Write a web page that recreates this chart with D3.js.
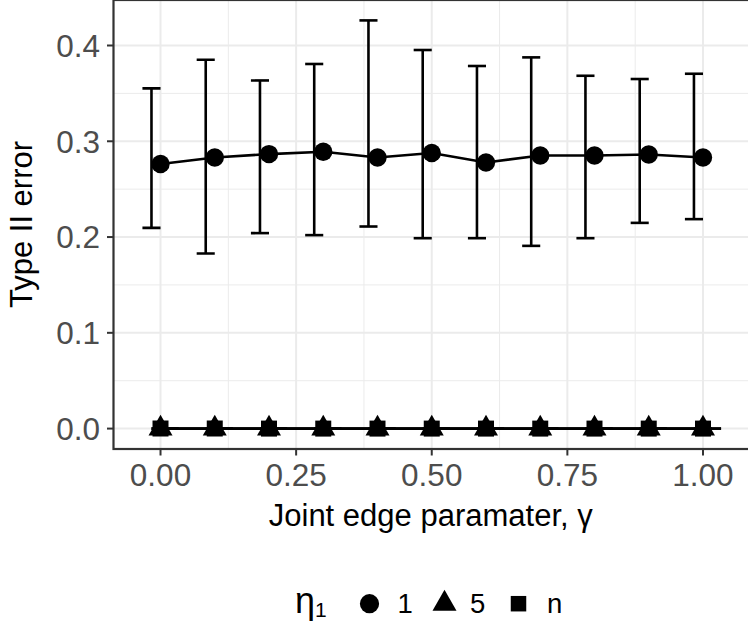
<!DOCTYPE html>
<html>
<head>
<meta charset="utf-8">
<script src="https://cdn.jsdelivr.net/npm/d3@7"></script>
<style>
  html, body { margin: 0; padding: 0; background: #fff; }
  svg { display: block; }
  text { font-family: "Liberation Sans", Arial, Helvetica, sans-serif; }
</style>
</head>
<body>
<div id="chart"></div>
<script>
// ---------------- data ----------------
const gamma = [0, 0.1, 0.2, 0.3, 0.4, 0.5, 0.6, 0.7, 0.8, 0.9, 1.0];
const seriesNames = ["1", "5", "n"];
const eta1Mean  = [0.2762, 0.2831, 0.2866, 0.2890, 0.2831, 0.2877, 0.2778, 0.2852, 0.2852, 0.2862, 0.2831];
const eta1Upper = [0.3552, 0.3852, 0.3635, 0.3807, 0.4262, 0.3953, 0.3786, 0.3876, 0.3684, 0.3650, 0.3705];
const eta1Lower = [0.2096, 0.1828, 0.2041, 0.2020, 0.2110, 0.1988, 0.1988, 0.1908, 0.1988, 0.2148, 0.2187];
const eta5Mean  = [0, 0, 0, 0, 0, 0, 0, 0, 0, 0, 0];
const eta5Upper = [0, 0, 0, 0, 0, 0, 0, 0, 0, 0, 0];
const eta5Lower = [0, 0, 0, 0, 0, 0, 0, 0, 0, 0, 0];
const etanMean  = [0, 0, 0, 0, 0, 0, 0, 0, 0, 0, 0];
const etanUpper = [0, 0, 0, 0, 0, 0, 0, 0, 0, 0, 0];
const etanLower = [0, 0, 0, 0, 0, 0, 0, 0, 0, 0, 0];
const xTicks = [0, 0.25, 0.5, 0.75, 1.0];
const xTickLabels = ["0.00", "0.25", "0.50", "0.75", "1.00"];
const yTicks = [0, 0.1, 0.2, 0.3, 0.4];
const yTickLabels = ["0.0", "0.1", "0.2", "0.3", "0.4"];
const xTitle = "Joint edge paramater, \u03B3";
const yTitle = "Type II error";
const legendTitle = "\u03B7";
const legendSub = "1";

// errorbar dodge (data units) and cap half width
const dodgeW = 0.05 / 3;
const capHalf = 0.05 / 3;

const series = [
  { name: seriesNames[0], mean: eta1Mean, up: eta1Upper, lo: eta1Lower, shape: "circle", dodge: -dodgeW },
  { name: seriesNames[1], mean: eta5Mean, up: eta5Upper, lo: eta5Lower, shape: "triangle", dodge: 0 },
  { name: seriesNames[2], mean: etanMean, up: etanUpper, lo: etanLower, shape: "square", dodge: dodgeW }
];

// ---------------- layout ----------------
const W = 748, H = 626;
const panel = { left: 113.5, top: 0, right: 750, bottom: 449 };

const svg = d3.select("#chart").append("svg").attr("width", W).attr("height", H);

// domains like ggplot (data range incl. errorbars, expanded 5%)
const xs = [];
series.forEach(s => gamma.forEach(g => { xs.push(g + s.dodge - capHalf, g + s.dodge + capHalf); }));
const ys = [];
series.forEach(s => s.mean.forEach((m, i) => { ys.push(m, s.up[i], s.lo[i]); }));
const xr = d3.extent(xs), yr = d3.extent(ys);
const xe = (xr[1] - xr[0]) * 0.05, ye = (yr[1] - yr[0]) * 0.05;

const x = d3.scaleLinear().domain([xr[0] - xe, xr[1] + xe]).range([panel.left, panel.right]);
const y = d3.scaleLinear().domain([yr[0] - ye, yr[1] + ye]).range([panel.bottom, panel.top]);

const defs = svg.append("defs");
defs.append("clipPath").attr("id", "clip").append("rect")
  .attr("x", panel.left).attr("y", panel.top)
  .attr("width", panel.right - panel.left).attr("height", panel.bottom - panel.top);

const gPanel = svg.append("g").attr("clip-path", "url(#clip)");

// grid
const xMinor = [0.125, 0.375, 0.625, 0.875, -0.125, 1.125];
const yMinor = [0.05, 0.15, 0.25, 0.35, 0.45, -0.05];
gPanel.selectAll(".xminor").data(xMinor).enter().append("line")
  .attr("x1", d => x(d)).attr("x2", d => x(d)).attr("y1", panel.top).attr("y2", panel.bottom)
  .attr("stroke", "#EBEBEB").attr("stroke-width", 1);
gPanel.selectAll(".yminor").data(yMinor).enter().append("line")
  .attr("y1", d => y(d)).attr("y2", d => y(d)).attr("x1", panel.left).attr("x2", panel.right)
  .attr("stroke", "#EBEBEB").attr("stroke-width", 1);
gPanel.selectAll(".xmajor").data(xTicks).enter().append("line")
  .attr("x1", d => x(d)).attr("x2", d => x(d)).attr("y1", panel.top).attr("y2", panel.bottom)
  .attr("stroke", "#EBEBEB").attr("stroke-width", 2);
gPanel.selectAll(".ymajor").data(yTicks).enter().append("line")
  .attr("y1", d => y(d)).attr("y2", d => y(d)).attr("x1", panel.left).attr("x2", panel.right)
  .attr("stroke", "#EBEBEB").attr("stroke-width", 2);

// lines
const line = d3.line().x(d => x(d[0])).y(d => y(d[1]));
series.forEach(s => {
  gPanel.append("path")
    .datum(gamma.map((g, i) => [g, s.mean[i]]))
    .attr("d", line).attr("fill", "none").attr("stroke", "#000").attr("stroke-width", 2.6);
});

// error bars
series.forEach(s => {
  const g = gPanel.append("g").attr("stroke", "#000").attr("stroke-width", 2.6).attr("fill", "none");
  gamma.forEach((gv, i) => {
    const cx = gv + s.dodge;
    g.append("line").attr("x1", x(cx)).attr("x2", x(cx)).attr("y1", y(s.lo[i])).attr("y2", y(s.up[i]));
    g.append("line").attr("x1", x(cx - capHalf)).attr("x2", x(cx + capHalf)).attr("y1", y(s.up[i])).attr("y2", y(s.up[i]));
    g.append("line").attr("x1", x(cx - capHalf)).attr("x2", x(cx + capHalf)).attr("y1", y(s.lo[i])).attr("y2", y(s.lo[i]));
  });
});

// points
const symbolFor = {
  circle: d3.symbol().type(d3.symbolCircle).size(Math.PI * 9.2 * 9.2),
  triangle: d3.symbol().type(d3.symbolTriangle).size(Math.sqrt(3) / 4 * 24 * 24),
  square: d3.symbol().type(d3.symbolSquare).size(16 * 16)
};
series.forEach(s => {
  gPanel.selectAll(null).data(gamma.map((g, i) => [g, s.mean[i]])).enter().append("path")
    .attr("d", symbolFor[s.shape]())
    .attr("transform", d => `translate(${x(d[0])},${y(d[1])})`)
    .attr("fill", "#000");
});

// panel border
svg.append("rect")
  .attr("x", panel.left).attr("y", panel.top)
  .attr("width", panel.right - panel.left).attr("height", panel.bottom - panel.top)
  .attr("fill", "none").attr("stroke", "#333333").attr("stroke-width", 2.2);

// axes
const tickLen = 6.5;
const gx = svg.append("g");
xTicks.forEach((t, i) => {
  gx.append("line").attr("x1", x(t)).attr("x2", x(t)).attr("y1", panel.bottom).attr("y2", panel.bottom + tickLen)
    .attr("stroke", "#333333").attr("stroke-width", 2);
  gx.append("text").attr("x", x(t)).attr("y", 486).attr("text-anchor", "middle")
    .attr("font-size", 31.5).attr("fill", "#4D4D4D").text(xTickLabels[i]);
});
const gy = svg.append("g");
yTicks.forEach((t, i) => {
  gy.append("line").attr("x1", panel.left - tickLen).attr("x2", panel.left).attr("y1", y(t)).attr("y2", y(t))
    .attr("stroke", "#333333").attr("stroke-width", 2);
  gy.append("text").attr("x", 100).attr("y", y(t)).attr("dy", "0.36em").attr("text-anchor", "end")
    .attr("font-size", 31.5).attr("fill", "#4D4D4D").text(yTickLabels[i]);
});

// titles
svg.append("text").attr("x", (panel.left + panel.right) / 2 - 1).attr("y", 526)
  .attr("text-anchor", "middle").attr("font-size", 31).attr("fill", "#000").text(xTitle);
svg.append("text").attr("transform", `translate(32,${(panel.top + panel.bottom) / 2}) rotate(-90)`)
  .attr("text-anchor", "middle").attr("font-size", 31).attr("fill", "#000").text(yTitle);

// legend
const lg = svg.append("g");
const lt = lg.append("text").attr("x", 295).attr("y", 613).attr("font-size", 36).attr("fill", "#000");
lt.append("tspan").text(legendTitle);
lt.append("tspan").attr("font-size", 21).attr("dy", 4).text(legendSub);
const legendItems = [
  { shape: "circle", kx: 369.5, tx: 397.5 },
  { shape: "triangle", kx: 444.5, tx: 470 },
  { shape: "square", kx: 518.5, tx: 547 }
];
legendItems.forEach((it, i) => {
  const sym = it.shape === "square" ? d3.symbol().type(d3.symbolSquare).size(15.5 * 15.5)()
            : it.shape === "circle" ? d3.symbol().type(d3.symbolCircle).size(Math.PI * 9.6 * 9.6)()
            : symbolFor.triangle();
  lg.append("path").attr("d", sym).attr("transform", `translate(${it.kx},${603.7})`).attr("fill", "#000");
  lg.append("text").attr("x", it.tx).attr("y", 613).attr("font-size", 27.5).attr("fill", "#000").text(seriesNames[i]);
});
</script>
</body>
</html>
